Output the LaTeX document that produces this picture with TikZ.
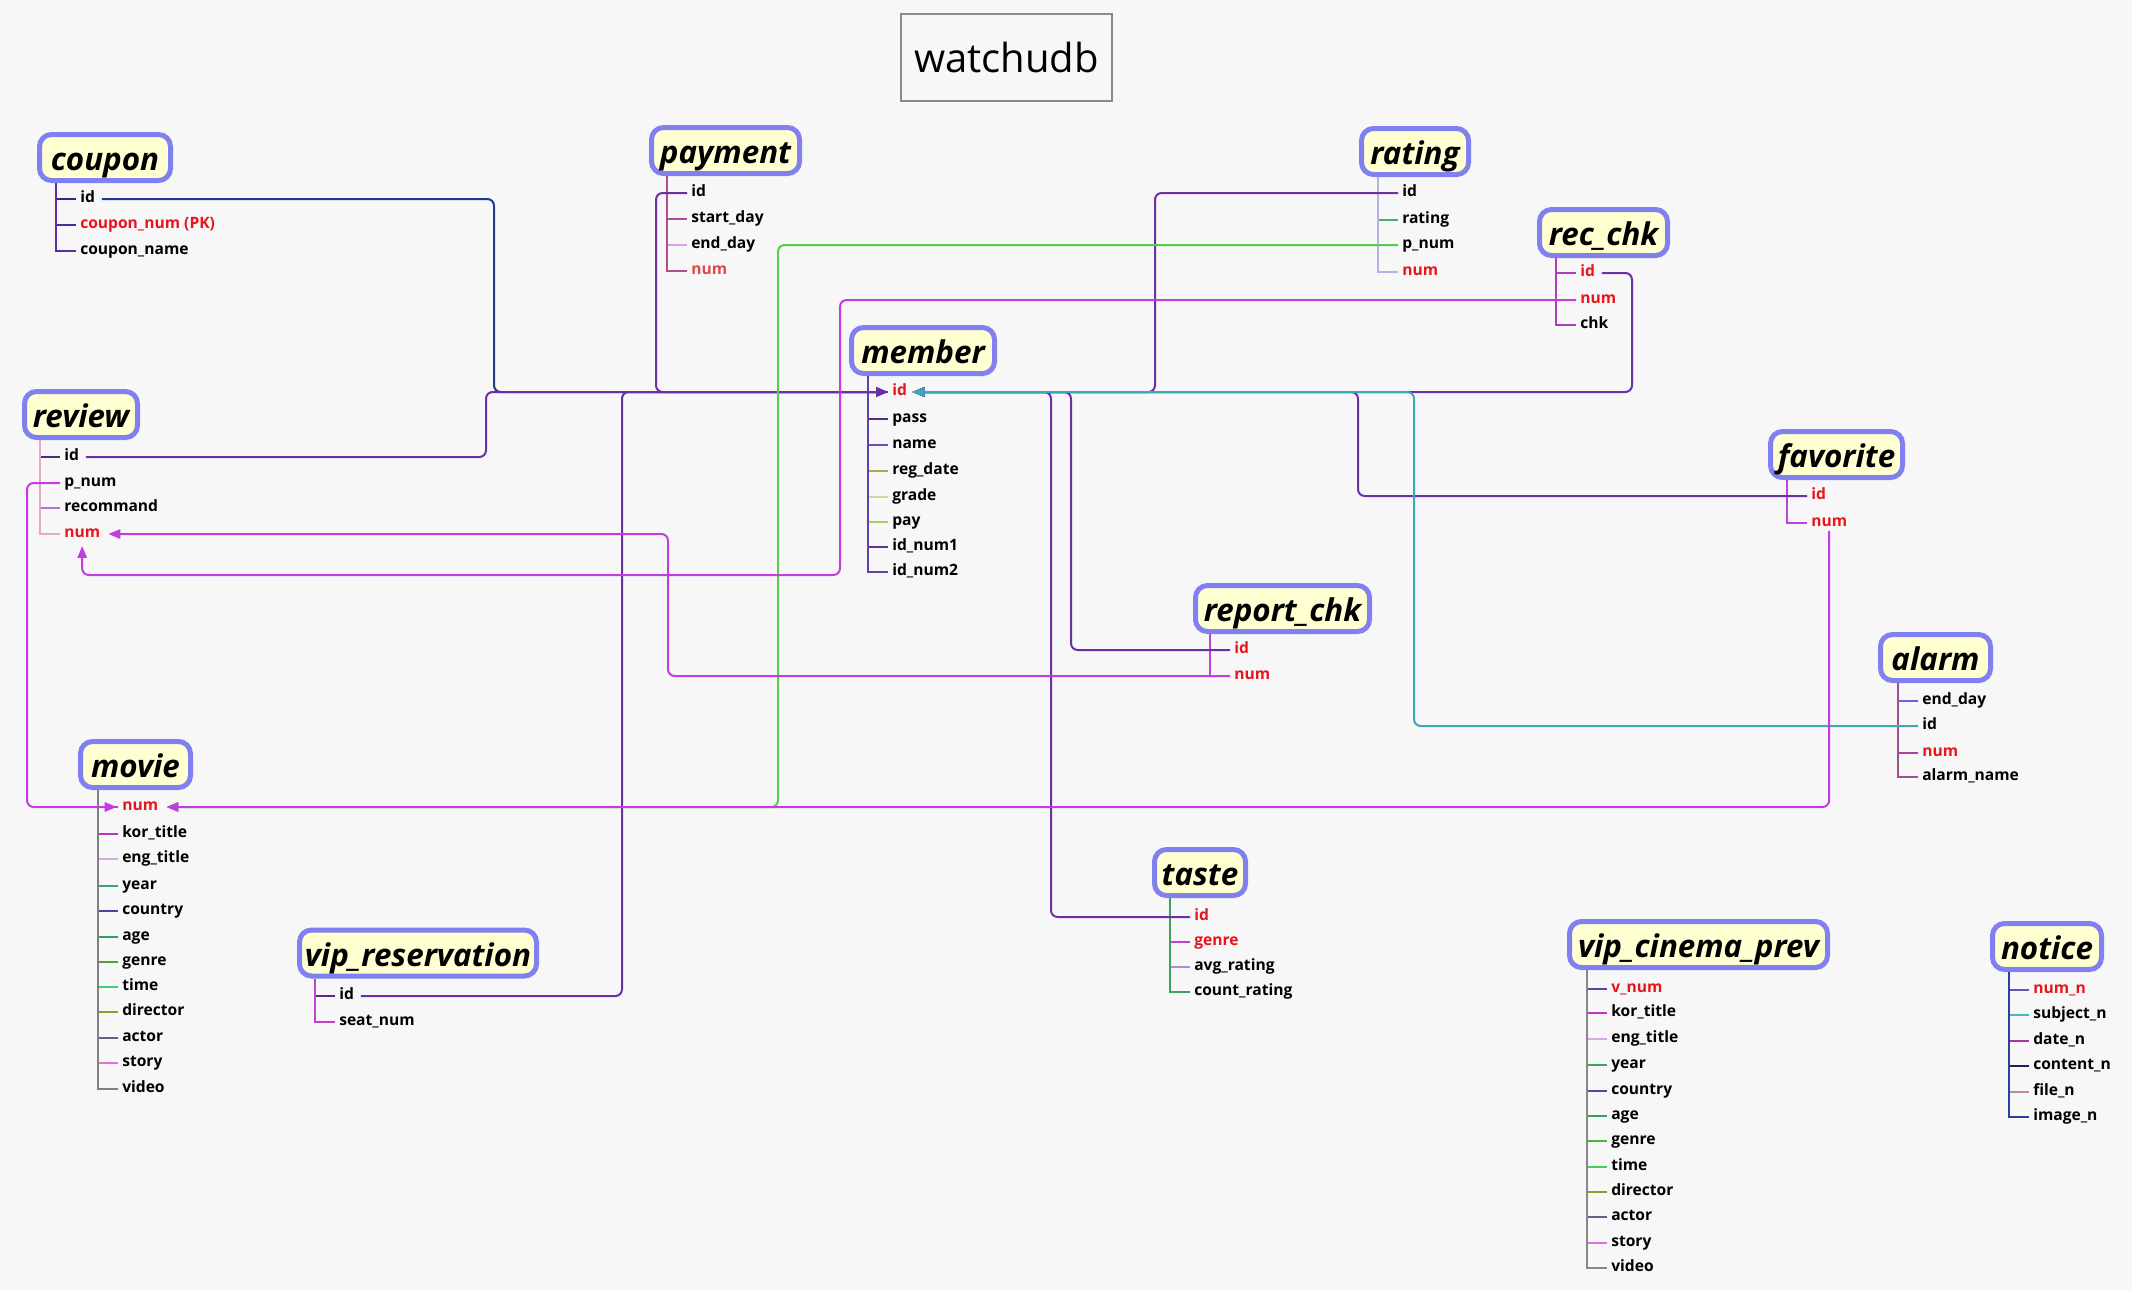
\documentclass[tikz,border=0pt]{standalone}
\usepackage{fontspec}
\setmainfont{Open Sans}
\usetikzlibrary{arrows.meta}

% palette
\definecolor{bg}{HTML}{F7F7F7}
\definecolor{boxline}{HTML}{8080F0}
\definecolor{boxfill}{HTML}{FFFFD2}
\definecolor{titleline}{HTML}{8A8A8A}
\definecolor{keyred}{HTML}{E8141C}
\definecolor{keyredlight}{HTML}{DD4848}
\definecolor{cpurple}{HTML}{6B2FA6}
\definecolor{cnavy}{HTML}{1F3A8F}
\definecolor{ccyan}{HTML}{3FA6BE}
\definecolor{cgreen}{HTML}{55CF4A}
\definecolor{cmagenta}{HTML}{C43CE0}

\newcommand\ttlfont{\fontsize{23.5}{28}\selectfont\bfseries\itshape}
\newcommand\fldfont{\fontsize{11.7}{14}\selectfont\bfseries}

% table heading box: name, centre x, centre y, outer width (px), heading
\newcommand\tablebox[5]{%
  \pgfmathsetmacro\tbw{(#4-5)*0.75}%
  \node[tbox, minimum width=\tbw pt] (#1) at (#2,#3) {#5};}
% one column row: [text style] name, text x, y, tick colour (hex), label
\newcommand\fieldrow[6][]{%
  \node[field,#1] (#2) at (#3,#4) {#6};
  \definecolor{tickc}{HTML}{#5}%
  \draw[tick,tickc] ([xshift=-3pt]#2.mid west) -- ++(-20,0);}
% trunk of a table: colour (hex), table, first row, last row
\newcommand\trunk[4]{%
  \definecolor{trunkc}{HTML}{#1}%
  \draw[tick,trunkc] ([xshift=-18pt]#3.mid west |- #2.south) |- ([xshift=-3pt]#4.mid west);}

\tikzset{
  tbox/.style={draw=boxline, line width=3.75pt, fill=boxfill, rounded corners=9pt,
    minimum height=34.5pt, inner sep=0pt, text height=19.5pt, text depth=0pt, font=\ttlfont},
  field/.style={anchor=mid west, inner sep=0pt, font=\fldfont, text=black},
  key/.style={text=keyred},
  tick/.style={line width=1.5pt},
  conn/.style={line width=1.5pt, rounded corners=5pt},
  tip/.style={-{Triangle[length=9pt,width=7pt]}},
}

\begin{document}
\begin{tikzpicture}[x=0.75pt,y=-0.75pt]
\fill[bg] (0,0) rectangle (2132,1290);
\useasboundingbox (0,0) rectangle (2132,1290);

% diagram title
\node[draw=titleline, line width=1.2pt, fill=bg, minimum width=158.5pt, minimum height=65.5pt,
  inner sep=0pt, font=\fontsize{30}{36}\selectfont] (title) at (1006.5,57.5) {watchudb};

% ---------------- tables ----------------
\tablebox{coupon}{105}{157.5}{136}{coupon}
\fieldrow{cp-id}{80}{199}{2B2B80}{id}
\fieldrow[key]{cp-num}{80}{225}{4C2A9A}{coupon\_num (PK)}
\fieldrow{cp-name}{80}{251}{5B2DA0}{coupon\_name}
\trunk{5B2DA0}{coupon}{cp-id}{cp-name}

\tablebox{payment}{725.5}{150.5}{153}{payment}
\fieldrow{pay-id}{691}{193}{5A2A8A}{id}
\fieldrow{pay-start}{691}{219}{B04A9A}{start\_day}
\fieldrow{pay-end}{691}{245}{D8A0E8}{end\_day}
\fieldrow[text=keyredlight]{pay-num}{691}{271}{B0508A}{num}
\trunk{B0508A}{payment}{pay-id}{pay-num}

\tablebox{rating}{1415}{151.5}{112}{rating}
\fieldrow{rt-id}{1402}{193}{6030A0}{id}
\fieldrow{rt-rating}{1402}{220}{40B070}{rating}
\fieldrow{rt-pnum}{1402}{245}{50D050}{p\_num}
\fieldrow[key]{rt-num}{1402}{272}{B8B0E8}{num}
\trunk{B8B0E8}{rating}{rt-id}{rt-num}

\tablebox{recchk}{1603.5}{232.5}{133}{rec\_chk}
\fieldrow[key]{rc-id}{1580}{273}{B040C0}{id}
\fieldrow[key]{rc-num}{1580}{300}{D020E0}{num}
\fieldrow{rc-chk}{1580}{325}{B03CC0}{chk}
\trunk{B03CC0}{recchk}{rc-id}{rc-chk}

\tablebox{member}{923}{350.5}{148}{member}
\fieldrow[key]{mb-id}{892}{392}{6B2FA6}{id}
\fieldrow{mb-pass}{892}{419}{5A2A8A}{pass}
\fieldrow{mb-name}{892}{445}{6A48C8}{name}
\fieldrow{mb-reg}{892}{471}{A8B040}{reg\_date}
\fieldrow{mb-grade}{892}{497}{C8DCA8}{grade}
\fieldrow{mb-pay}{892}{522}{A8D060}{pay}
\fieldrow{mb-num1}{892}{547}{6030A0}{id\_num1}
\fieldrow{mb-num2}{892}{572}{6040B0}{id\_num2}
\trunk{6040B0}{member}{mb-id}{mb-num2}

\tablebox{review}{81}{414.5}{118}{review}
\fieldrow{rv-id}{64}{457}{4B2A80}{id}
\fieldrow{rv-pnum}{64}{483}{C040E0}{p\_num}
\fieldrow{rv-rec}{64}{508}{B070E0}{recommand}
\fieldrow[key]{rv-num}{64}{534}{E8A8C8}{num}
\trunk{E8A8C8}{review}{rv-id}{rv-num}

\tablebox{favorite}{1836.5}{454.5}{137}{favorite}
\fieldrow[key]{fv-id}{1811}{496}{6B2FA6}{id}
\fieldrow[key]{fv-num}{1811}{523}{C040E0}{num}
\trunk{C040E0}{favorite}{fv-id}{fv-num}

\tablebox{reportchk}{1282.5}{608.5}{179}{report\_chk}
\fieldrow[key]{rp-id}{1234}{650}{6B2FA6}{id}
\fieldrow[key]{rp-num}{1234}{676}{C040E0}{num}
\trunk{C040E0}{reportchk}{rp-id}{rp-num}

\tablebox{alarm}{1935.5}{657.5}{115}{alarm}
\fieldrow{al-end}{1922}{701}{7060D8}{end\_day}
\fieldrow{al-id}{1922}{726}{3DAAB8}{id}
\fieldrow[key]{al-num}{1922}{753}{B040A0}{num}
\fieldrow{al-name}{1922}{777}{A05090}{alarm\_name}
\trunk{A05090}{alarm}{al-end}{al-name}

\tablebox{movie}{135.5}{764.5}{115}{movie}
\fieldrow[key]{mv-num}{122}{807}{C43CE0}{num}
\fieldrow{mv-kor}{122}{834}{C030D0}{kor\_title}
\fieldrow{mv-eng}{122}{859}{D8A8E8}{eng\_title}
\fieldrow{mv-year}{122}{886}{40A070}{year}
\fieldrow{mv-country}{122}{911}{5040A0}{country}
\fieldrow{mv-age}{122}{937}{30A060}{age}
\fieldrow{mv-genre}{122}{962}{50A040}{genre}
\fieldrow{mv-time}{122}{987}{40D070}{time}
\fieldrow{mv-director}{122}{1012}{90A020}{director}
\fieldrow{mv-actor}{122}{1038}{606088}{actor}
\fieldrow{mv-story}{122}{1063}{E070E0}{story}
\fieldrow{mv-video}{122}{1089}{808080}{video}
\trunk{808080}{movie}{mv-num}{mv-video}

\tablebox{taste}{1200}{872.5}{96}{taste}
\fieldrow[key]{ts-id}{1194}{917}{6B2FA6}{id}
\fieldrow[key]{ts-genre}{1194}{942}{C040D0}{genre}
\fieldrow{ts-avg}{1194}{967}{B888D8}{avg\_rating}
\fieldrow{ts-count}{1194}{992}{40A060}{count\_rating}
\trunk{40A060}{taste}{ts-id}{ts-count}

\tablebox{vipres}{418}{953}{242}{vip\_reservation}
\fieldrow{vr-id}{339}{996}{5A2A8A}{id}
\fieldrow{vr-seat}{339}{1022}{C040D0}{seat\_num}
\trunk{C040D0}{vipres}{vr-id}{vr-seat}

\tablebox{vipcin}{1698.5}{944.5}{263}{vip\_cinema\_prev}
\fieldrow[key]{vc-num}{1611}{989}{6040A0}{v\_num}
\fieldrow{vc-kor}{1611}{1013}{C030D0}{kor\_title}
\fieldrow{vc-eng}{1611}{1039}{D8A8E8}{eng\_title}
\fieldrow{vc-year}{1611}{1065}{40A060}{year}
\fieldrow{vc-country}{1611}{1091}{6040A0}{country}
\fieldrow{vc-age}{1611}{1116}{30A060}{age}
\fieldrow{vc-genre}{1611}{1141}{50B040}{genre}
\fieldrow{vc-time}{1611}{1167}{40D060}{time}
\fieldrow{vc-director}{1611}{1192}{90A020}{director}
\fieldrow{vc-actor}{1611}{1217}{606088}{actor}
\fieldrow{vc-story}{1611}{1243}{E070E0}{story}
\fieldrow{vc-video}{1611}{1268}{888888}{video}
\trunk{888888}{vipcin}{vc-num}{vc-video}

\tablebox{notice}{2047}{946.5}{114}{notice}
\fieldrow[key]{nt-num}{2033}{990}{5858B8}{num\_n}
\fieldrow{nt-subject}{2033}{1015}{48B8C8}{subject\_n}
\fieldrow{nt-date}{2033}{1041}{B030A0}{date\_n}
\fieldrow{nt-content}{2033}{1066}{202060}{content\_n}
\fieldrow{nt-file}{2033}{1092}{C08898}{file\_n}
\fieldrow{nt-image}{2033}{1117}{2840A0}{image\_n}
\trunk{2840A0}{notice}{nt-num}{nt-image}

% ---------------- routing columns ----------------
\coordinate (busCoupon) at (494,0);
\coordinate (busReview) at (486,0);
\coordinate (busVip) at (622,0);
\coordinate (busPay) at (656,0);
\coordinate (busTaste) at (1051,0);
\coordinate (busReport) at (1071,0);
\coordinate (busRating) at (1155,0);
\coordinate (busFav) at (1358,0);
\coordinate (busAlarm) at (1414,0);
\coordinate (busRec) at (1632,0);
\coordinate (busGreen) at (778,0);
\coordinate (busRecNum) at (840,575);
\coordinate (busRepNum) at (668,0);
\coordinate (busPnum) at (27,0);

% ---------------- references to member.id ----------------
\draw[conn, cnavy, tip] ([xshift=5pt]cp-id.mid east) -| (busCoupon |- mb-id.mid west) -- ([xshift=-3pt]mb-id.mid west);
\draw[conn, cpurple, tip] ([xshift=5pt]rv-id.mid east) -| (busReview |- mb-id.mid west) -- ([xshift=-3pt]mb-id.mid west);
\draw[conn, cpurple, tip] ([xshift=5pt]vr-id.mid east) -| (busVip |- mb-id.mid west) -- ([xshift=-3pt]mb-id.mid west);
\draw[conn, cpurple, tip] ([xshift=-3pt]pay-id.mid west) -| (busPay |- mb-id.mid west) -- ([xshift=-3pt]mb-id.mid west);

\draw[conn, cpurple, tip] ([xshift=-3pt]rt-id.mid west) -| (busRating |- mb-id.mid east) -- ([xshift=4pt]mb-id.mid east);
\draw[conn, cpurple, tip] ([xshift=5pt]rc-id.mid east) -| (busRec |- mb-id.mid east) -- ([xshift=4pt]mb-id.mid east);
\draw[conn, cpurple, tip] ([xshift=-3pt]ts-id.mid west) -| (busTaste |- mb-id.mid east) -- ([xshift=4pt]mb-id.mid east);
\draw[conn, cpurple, tip] ([xshift=-3pt]rp-id.mid west) -| (busReport |- mb-id.mid east) -- ([xshift=4pt]mb-id.mid east);
\draw[conn, cpurple, tip] ([xshift=-3pt]fv-id.mid west) -| (busFav |- mb-id.mid east) -- ([xshift=4pt]mb-id.mid east);
\draw[conn, ccyan, tip] ([xshift=-3pt]al-id.mid west) -| (busAlarm |- mb-id.mid east) -- ([xshift=4pt]mb-id.mid east);

% ---------------- references to movie.num ----------------
\draw[conn, cgreen, tip] ([xshift=-3pt]rt-pnum.mid west) -| (busGreen |- mv-num.mid east) -- ([xshift=6pt]mv-num.mid east);
\draw[conn, cmagenta, tip] ([yshift=-3pt]fv-num.south) |- ([xshift=6pt]mv-num.mid east);
\draw[conn, cmagenta, tip] ([xshift=-3pt]rv-pnum.mid west) -| (busPnum |- mv-num.mid west) -- ([xshift=-4pt]mv-num.mid west);

% ---------------- references to review.num ----------------
\draw[conn, cmagenta, tip] ([xshift=-3pt]rc-num.mid west) -| (busRecNum) -| ([yshift=-6pt]rv-num.south);
\draw[conn, cmagenta, tip] ([xshift=-3pt]rp-num.mid west) -| (busRepNum |- rv-num.mid east) -- ([xshift=6pt]rv-num.mid east);

\end{tikzpicture}
\end{document}
